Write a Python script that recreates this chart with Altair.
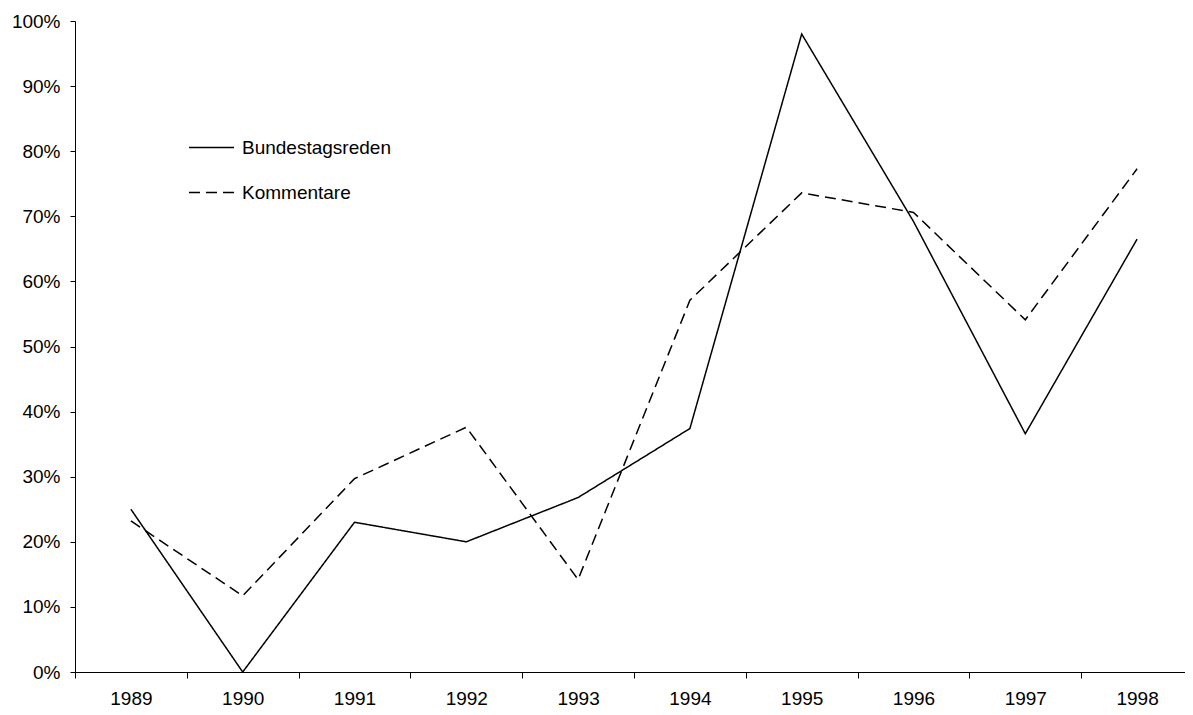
import altair as alt
import pandas as pd

years = ["1989", "1990", "1991", "1992", "1993", "1994", "1995", "1996", "1997", "1998"]
bundestagsreden = [0.250, 0.000, 0.230, 0.200, 0.268, 0.374, 0.980, 0.692, 0.366, 0.665]
kommentare = [0.232, 0.117, 0.297, 0.376, 0.142, 0.571, 0.736, 0.706, 0.541, 0.773]
series_names = ["Bundestagsreden", "Kommentare"]

rows = []
for name, vals in zip(series_names, [bundestagsreden, kommentare]):
    for y, v in zip(years, vals):
        rows.append({"Jahr": y, "Anteil": v, "Reihe": name})
df = pd.DataFrame(rows)

FONT = "Liberation Sans"

chart = alt.Chart(df).mark_line(color="black", strokeWidth=1.5).encode(
    x=alt.X("Jahr:O", sort=years,
            scale=alt.Scale(type="band", paddingInner=0, paddingOuter=0),
            axis=alt.Axis(title=None, labelAngle=0, tickBand="extent",
                          tickSize=6, labelPadding=11, labelFontSize=19,
                          labelFont=FONT, labelColor="black", grid=False,
                          domainColor="black", tickColor="black")),
    y=alt.Y("Anteil:Q",
            scale=alt.Scale(domain=[0, 1], nice=False),
            axis=alt.Axis(title=None, format=".0%", values=[i / 10 for i in range(11)],
                          tickSize=5, labelPadding=10, labelFontSize=19,
                          labelFont=FONT, labelColor="black", grid=False,
                          domainColor="black", tickColor="black")),
    strokeDash=alt.StrokeDash("Reihe:N",
                              scale=alt.Scale(domain=series_names, range=[[1, 0], [11, 6]]),
                              legend=alt.Legend(title=None, orient="none", legendX=113, legendY=103,
                                                symbolType="stroke", symbolSize=2025,
                                                symbolStrokeColor="black", symbolStrokeWidth=1.5,
                                                labelFontSize=19, labelFont=FONT, labelColor="black",
                                                labelOffset=7, rowPadding=11, padding=0)),
    detail="Reihe:N",
).properties(
    width=1118, height=651,
    background="white",
    autosize=alt.AutoSizeParams(type="none"),
    padding={"left": 67, "top": 13, "right": -8, "bottom": 35},
).configure_view(stroke=None)

chart.save("out.html", embed_options={"renderer": "svg", "actions": False})
